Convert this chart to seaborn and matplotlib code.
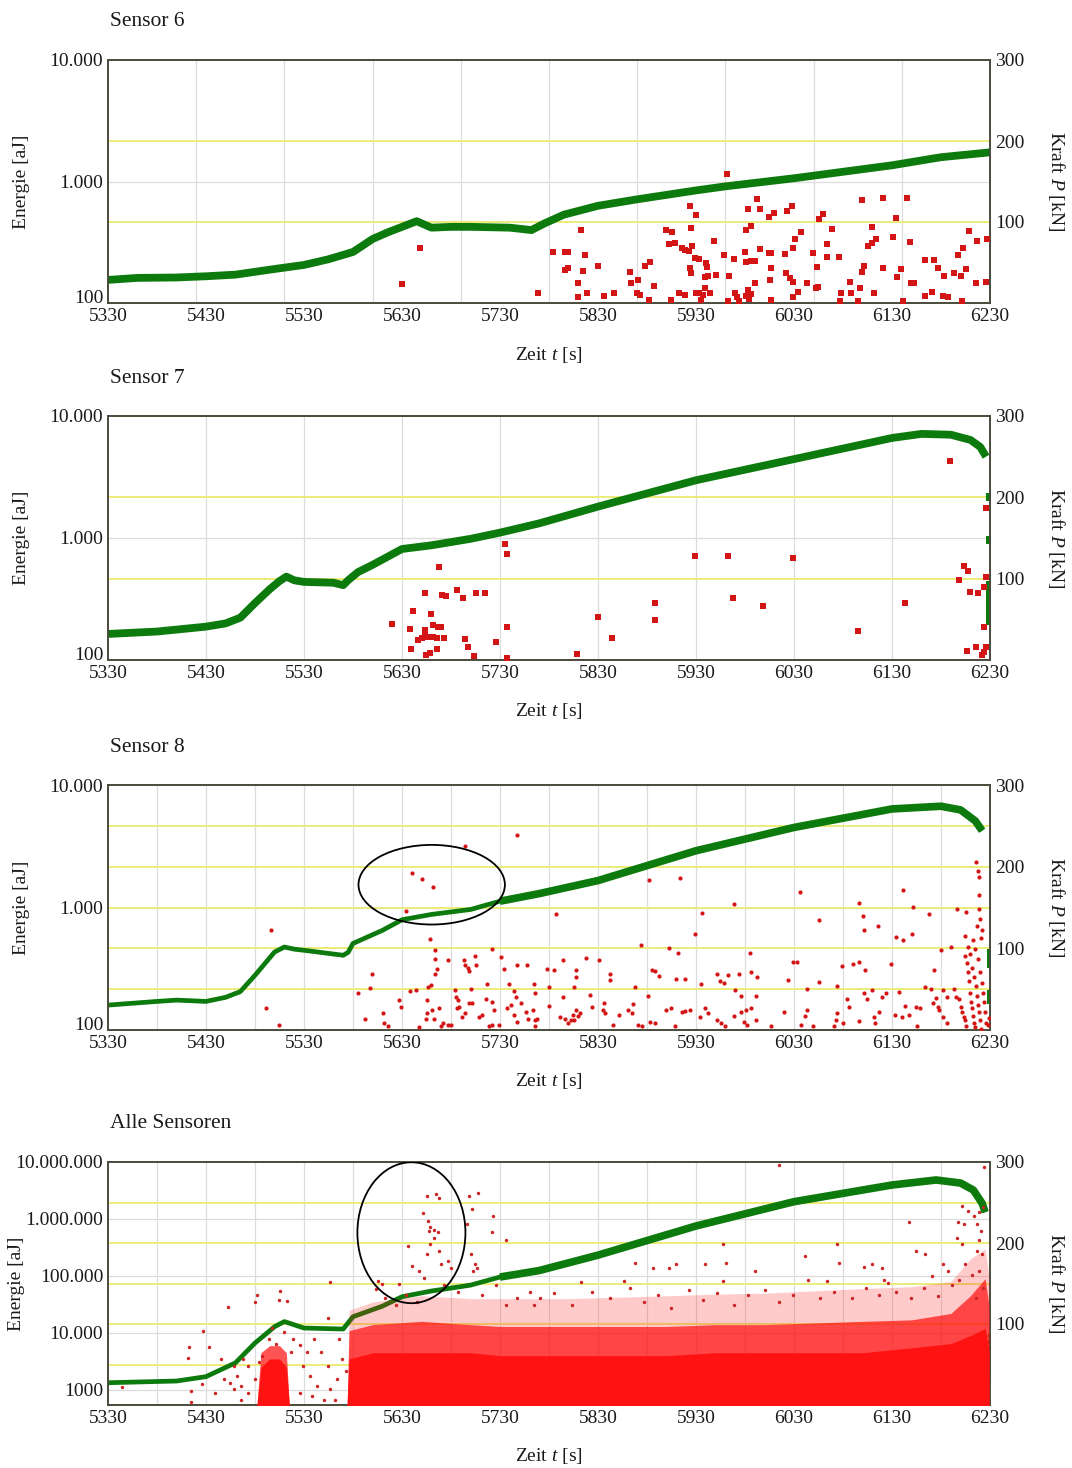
import matplotlib
matplotlib.use("Agg")
import matplotlib.pyplot as plt
import matplotlib.transforms as mtransforms
from matplotlib.lines import Line2D
from matplotlib.patches import Ellipse
from matplotlib.ticker import FixedLocator, FixedFormatter, NullLocator
import seaborn as sns

# ------------------------------------------------------------------
# Zeitachse
# ------------------------------------------------------------------
T0, T1 = 5330, 6230
x_ticks = [5330, 5430, 5530, 5630, 5730, 5830, 5930, 6030, 6130, 6230]

# ------------------------------------------------------------------
# Sensor 6
# ------------------------------------------------------------------
s6_force_t = [5330, 5360, 5400, 5430, 5460, 5480, 5500, 5530, 5555, 5580, 5600, 5615,
              5630, 5645, 5660, 5680, 5700, 5720, 5740, 5755, 5762, 5775, 5795, 5830,
              5870, 5930, 5960, 6030, 6080, 6130, 6180, 6230]
s6_force_p = [28.5, 31, 31.5, 33, 35, 38.5, 42, 47, 54, 63, 79, 87,
              94, 101, 93, 94, 94, 93.5, 93, 91, 90, 98, 109, 120,
              128, 139, 144, 154, 162, 170, 180, 186]
s6_hits = [
    (5630, 143), (5648, 282), (5769, 121),
    (5784, 261), (5796, 261), (5799, 264), (5796, 187), (5799, 195),
    (5813, 399), (5817, 248), (5815, 185), (5810, 145), (5810, 111), (5819, 120),
    (5830, 203), (5836, 114), (5846, 120),
    (5863, 181), (5864, 145), (5871, 155), (5870, 120), (5873, 116),
    (5878, 203), (5883, 219), (5882, 106), (5887, 138),
    (5899, 399), (5906, 382), (5902, 304), (5909, 314), (5904, 106),
    (5913, 122), (5919, 116), (5916, 282), (5919, 273), (5923, 270), (5926, 294),
    (5924, 629), (5930, 530), (5925, 412), (5925, 175), (5924, 195),
    (5929, 233), (5933, 229), (5930, 120), (5933, 122), (5937, 116), (5944, 120),
    (5935, 106), (5939, 132), (5940, 212), (5941, 199), (5939, 165), (5942, 167),
    (5950, 169), (5948, 326), (5962, 1153),
    (5959, 248), (5963, 104), (5969, 229), (5964, 167), (5970, 120), (5972, 111), (5974, 104),
    (5980, 264), (5981, 399), (5986, 433), (5983, 590),
    (5981, 219), (5986, 222), (5990, 222),
    (5983, 128), (5986, 118), (5990, 145), (5981, 114), (5984, 107),
    (5992, 718), (5995, 590), (5995, 277),
    (6004, 256), (6007, 256), (6004, 507), (6010, 547),
    (6007, 193), (6006, 155), (6007, 106),
    (6021, 253), (6022, 175), (6026, 160), (6029, 150),
    (6023, 575), (6028, 629), (6029, 282), (6031, 334), (6037, 387),
    (6029, 111), (6034, 124), (6043, 145), (6049, 256), (6053, 199), (6054, 136), (6052, 132),
    (6056, 488), (6060, 540), (6064, 304), (6064, 241), (6069, 409), (6076, 241),
    (6078, 120), (6077, 103), (6087, 150), (6088, 120), (6095, 103), (6097, 132),
    (6099, 704), (6106, 294), (6110, 314), (6114, 334), (6101, 203), (6099, 181),
    (6110, 420), (6112, 120),
    (6121, 736), (6121, 193), (6131, 352), (6134, 498), (6135, 165), (6139, 189), (6141, 103),
    (6145, 736), (6148, 320), (6149, 145), (6152, 145),
    (6164, 226), (6173, 226), (6177, 193), (6183, 167), (6164, 114), (6171, 124),
    (6182, 114), (6187, 111),
    (6193, 175), (6200, 167), (6206, 189), (6197, 248), (6202, 282), (6209, 391), (6201, 103),
    (6217, 326), (6227, 334), (6216, 147), (6226, 150),
]

# ------------------------------------------------------------------
# Sensor 7
# ------------------------------------------------------------------
s7_force_t = [5330, 5380, 5430, 5450, 5465, 5480, 5495, 5505, 5512, 5520, 5530, 5560,
              5570, 5575, 5585, 5600, 5630, 5660, 5700, 5730, 5770, 5830, 5930, 6030,
              6130, 6160, 6190, 6210, 6220, 6226]
s7_force_p = [32, 35, 41, 45, 52, 70, 87, 97, 102.5, 98, 96, 95,
              92, 98, 108, 117, 136.5, 141, 149, 156.6, 168, 188.6, 221, 247,
              273, 278, 277, 270.6, 262, 250]
s7_tail_t = [6229.5, 6229.5, 6229.5, 6229.5, 6229.5, 6229.5, 6229.5, 6229.5]
s7_tail_p = [200, 148, 92, 84, 76, 68, 58, 48]
s7_hits = [
    (5620, 197), (5641, 253), (5653, 352), (5668, 581), (5671, 341), (5675, 334),
    (5686, 374), (5692, 320), (5706, 352), (5715, 352),
    (5638, 181), (5646, 146), (5650, 152), (5653, 157), (5660, 238), (5662, 194),
    (5667, 187), (5670, 187), (5653, 175), (5656, 155), (5662, 155), (5666, 152),
    (5673, 152), (5639, 123), (5655, 110), (5659, 114), (5666, 123),
    (5694, 150), (5697, 127), (5703, 108), (5726, 141), (5735, 888), (5737, 735),
    (5737, 187), (5737, 103),
    (5809, 113), (5830, 227), (5844, 152), (5888, 295), (5888, 213), (5929, 712),
    (5963, 712), (5968, 324), (5998, 277), (6029, 681), (6095, 174), (6143, 295),
    (6189, 4305), (6198, 452), (6203, 589), (6208, 540), (6210, 363), (6218, 352),
    (6207, 118), (6216, 129),
    (6226, 1750), (6226, 482), (6224, 399), (6224, 188), (6226, 129), (6222, 110), (6224, 117),
]

# ------------------------------------------------------------------
# Sensor 8
# ------------------------------------------------------------------
s8_force_t = [5330, 5380, 5400, 5430, 5450, 5465, 5480, 5500, 5510, 5520, 5530, 5570,
              5575, 5580, 5610, 5630, 5660, 5700, 5730, 5770, 5830, 5930, 6030, 6130,
              6180, 6200, 6215, 6222]
s8_force_p = [30.5, 35, 36.6, 35, 40, 47, 67, 95.5, 101.6, 99, 97.6, 91.5,
              95, 106, 122, 135, 141.5, 147.6, 157.7, 167, 183, 219.5, 248, 270.7,
              274, 269.5, 256, 244]
s8_tail_t = [6229.5, 6229.5, 6229.5, 6229.5, 6229.5, 6229.5, 6229.5]
s8_tail_p = [95, 90, 85, 80, 45, 40, 36]
s8_hits = [
    (5496, 650), (5491, 150), (5505, 110),
    (5640, 1901), (5650, 1710), (5662, 1463), (5634, 945), (5694, 3192), (5747, 3921),
    (5659, 556), (5664, 447), (5664, 383), (5677, 376), (5666, 317), (5664, 289),
    (5599, 284), (5597, 221), (5585, 201), (5592, 122), (5611, 138), (5612, 115), (5616, 107),
    (5627, 175), (5629, 155), (5638, 208), (5644, 214), (5647, 105),
    (5656, 175), (5657, 225), (5660, 232), (5656, 138), (5661, 145), (5668, 152),
    (5654, 122), (5663, 122), (5670, 107), (5672, 115), (5677, 110), (5680, 110),
    (5684, 214), (5685, 187), (5687, 175), (5686, 152), (5688, 155),
    (5693, 371), (5694, 341), (5697, 320), (5698, 304), (5704, 399), (5706, 341),
    (5700, 218), (5698, 165), (5701, 167), (5694, 137), (5691, 127),
    (5709, 127), (5712, 132), (5719, 107), (5722, 110), (5729, 110),
    (5717, 239), (5716, 178), (5722, 170), (5724, 145),
    (5722, 461), (5731, 395), (5734, 312),
    (5739, 239), (5744, 208), (5746, 187), (5737, 150), (5741, 160),
    (5747, 338), (5758, 338), (5744, 132), (5747, 116), (5751, 165), (5757, 141), (5759, 124),
    (5765, 239), (5766, 199), (5766, 121),
    (5764, 145), (5766, 107), (5768, 124),
    (5778, 312), (5780, 225), (5780, 157), (5785, 307), (5787, 888), (5794, 376), (5794, 187),
    (5791, 128), (5796, 124), (5799, 113),
    (5802, 121), (5805, 132), (5806, 121), (5808, 145), (5810, 130), (5812, 137),
    (5808, 310), (5808, 271), (5806, 225),
    (5818, 387), (5822, 193), (5824, 154), (5831, 376), (5836, 167), (5835, 147), (5837, 138),
    (5842, 289), (5842, 255), (5845, 110), (5851, 132),
    (5861, 147), (5866, 163), (5865, 138), (5868, 225), (5871, 110), (5875, 107),
    (5874, 491), (5882, 1679), (5881, 189), (5883, 116), (5888, 115), (5885, 307),
    (5888, 304), (5892, 275),
    (5899, 147), (5905, 150), (5902, 470), (5910, 263), (5919, 263), (5912, 425), (5909, 107),
    (5914, 1740), (5916, 141), (5919, 143), (5924, 145),
    (5929, 603), (5934, 128), (5935, 239), (5936, 898), (5939, 150), (5942, 138),
    (5951, 289), (5954, 252), (5959, 242), (5951, 121), (5956, 113), (5960, 107),
    (5963, 280), (5969, 1069), (5970, 214), (5976, 189),
    (5969, 130), (5976, 141), (5981, 145), (5986, 150), (5974, 289), (5979, 116), (5982, 110),
    (5985, 425), (5986, 298), (5992, 271), (5991, 189), (5991, 121),
    (6007, 107), (6020, 141), (6024, 255), (6029, 360), (6033, 360), (6036, 1349),
    (6037, 110), (6041, 130), (6043, 147), (6043, 218),
    (6056, 784), (6056, 247), (6049, 107),
    (6071, 107), (6073, 121), (6074, 138), (6074, 228), (6079, 331), (6080, 113),
    (6084, 178), (6086, 154), (6090, 348), (6096, 360), (6096, 118), (6096, 1084),
    (6100, 860), (6101, 651), (6102, 310), (6101, 199), (6104, 178),
    (6110, 214), (6112, 128), (6113, 113), (6117, 141), (6116, 700), (6120, 187), (6124, 199),
    (6129, 348), (6133, 132), (6137, 205), (6140, 128), (6134, 574), (6141, 546), (6141, 1394),
    (6143, 157), (6147, 132), (6151, 1006), (6150, 603), (6155, 155), (6159, 150), (6156, 107),
    (6164, 225), (6170, 218), (6175, 181), (6168, 877), (6173, 310),
    (6172, 165), (6177, 154), (6178, 145), (6182, 128), (6186, 113),
    (6180, 452), (6182, 214), (6186, 187), (6190, 475),
    (6193, 218), (6195, 187), (6198, 178), (6200, 155), (6201, 141), (6203, 128),
    (6205, 121), (6206, 107), (6196, 976), (6204, 590), (6206, 915),
    (6205, 400), (6207, 350), (6208, 300), (6209, 250), (6210, 200), (6211, 170),
    (6212, 150), (6213, 130), (6214, 115), (6215, 105), (6208, 480), (6210, 420),
    (6212, 320), (6214, 270), (6216, 230), (6217, 190), (6218, 160), (6219, 140),
    (6220, 120), (6221, 102), (6213, 540), (6215, 460), (6218, 380), (6220, 300),
    (6222, 240), (6223, 200), (6224, 170), (6225, 140), (6226, 115),
    (6216, 2337), (6218, 2000), (6219, 1766), (6219, 1254), (6219, 976), (6220, 800),
    (6222, 650), (6217, 700), (6221, 560), (6228, 110), (6229, 125),
]

# ------------------------------------------------------------------
# Alle Sensoren
# ------------------------------------------------------------------
all_force_t = [5330, 5400, 5430, 5460, 5480, 5500, 5510, 5530, 5570, 5580, 5610, 5630,
               5660, 5700, 5730, 5770, 5830, 5930, 6030, 6130, 6175, 6200, 6213, 6222, 6225]
all_force_p = [27.5, 29.6, 35, 52, 76.5, 96.7, 103, 95, 93.8, 109, 122, 133.7,
               140.7, 148, 158, 166, 185, 221, 251, 271.6, 277.8, 274, 265.4, 249, 238]
all_tail_t = [6229.5, 6229.5, 6229.5, 6229.5, 6229.5, 6229.5, 6229.5]
all_tail_p = [85, 78, 70, 60, 50, 42, 35]

# dichte Trefferbänder (Energie-Obergrenzen je Zeitpunkt, aJ)
cluster_t = [5482, 5486, 5495, 5505, 5512, 5515]
cluster_core = [545, 2500, 3500, 3500, 2500, 545]
cluster_mid = [545, 4500, 6000, 6000, 4500, 545]

band_t = [5574, 5576, 5600, 5650, 5700, 5730, 5800, 5900, 5950, 6000, 6100, 6150,
          6190, 6210, 6225, 6229]
band_core = [545, 3500, 4500, 4500, 4500, 4000, 4000, 4000, 4500, 4500, 4500, 5500,
             6500, 9000, 12000, 5000]
band_mid = [545, 11000, 14000, 16000, 14000, 13000, 13000, 13000, 14000, 14000, 16000, 17000,
            22000, 45000, 90000, 30000]
band_light = [545, 25000, 35000, 45000, 40000, 40000, 40000, 45000, 48000, 50000, 60000, 65000,
              80000, 200000, 300000, 100000]

all_hits = [
    (5656, 2.5e6), (5665, 2.7e6), (5668, 2.3e6), (5698, 2.5e6), (5708, 2.9e6),
    (5651, 1.26e6), (5657, 9.3e5), (5659, 7.1e5), (5658, 6.2e5), (5663, 6.3e5), (5667, 6.0e5),
    (5723, 1.15e6), (5701, 1.5e6), (5736, 4.2e5), (5722, 5.8e5), (5636, 3.4e5),
    (5656, 2.4e5), (5659, 3.6e5), (5663, 4.7e5), (5668, 2.8e5), (5696, 8.1e5), (5700, 2.4e5),
    (5640, 1.5e5), (5647, 1.2e5), (5670, 1.6e5), (5677, 1.8e5), (5680, 1.4e5),
    (5704, 1.6e5), (5702, 1.2e5), (5707, 1.4e5),
    (5606, 8.3e4), (5610, 7.1e4), (5603, 5.8e4), (5627, 7.1e4), (5652, 9.1e4),
    (5557, 7.8e4), (5555, 1.8e4), (5506, 5.4e4), (5504, 3.8e4), (5513, 3.6e4),
    (5482, 4.6e4), (5480, 3.5e4), (5452, 2.8e4),
    (5413, 5600), (5412, 3700), (5433, 5600), (5427, 11000), (5344, 1150),
    (5415, 950), (5415, 620), (5426, 1260), (5439, 870),
    (5448, 1550), (5454, 1350), (5459, 1030), (5462, 1780), (5466, 1180),
    (5468, 3470), (5473, 2670), (5480, 1550), (5484, 3090), (5487, 4000),
    (5445, 3470), (5459, 2670), (5473, 900), (5466, 680),
    (5494, 7900), (5501, 6450), (5497, 12000), (5510, 10400), (5517, 4600),
    (5519, 7900), (5526, 6050), (5529, 2670), (5536, 1770), (5543, 1180), (5547, 4600),
    (5554, 2670), (5557, 1030), (5564, 1550), (5569, 3470), (5573, 2170), (5526, 900),
    (5538, 780), (5550, 680), (5562, 680), (5533, 4600), (5540, 7900), (5566, 7900),
    (5613, 4.1e4), (5624, 3.1e4), (5634, 4.7e4), (5645, 3.5e4), (5673, 7.0e4),
    (5687, 5.3e4), (5712, 4.7e4), (5726, 7.0e4), (5747, 4.1e4), (5761, 5.3e4),
    (5736, 3.1e4), (5765, 3.1e4),
    (6015, 8.9e6), (6224, 8.3e6), (6201, 1.7e6), (6208, 1.4e6), (6214, 1.15e6),
    (6219, 1.3e6), (6223, 1.6e6), (6197, 8.7e5), (6203, 8.1e5), (6217, 8.1e5),
    (6147, 8.7e5), (6221, 6.2e5), (6219, 4.2e5), (6222, 2.4e5), (6196, 4.7e5),
    (6201, 3.6e5), (6074, 3.6e5), (6154, 2.8e5), (6164, 2.4e5), (5958, 3.6e5),
    (6041, 2.2e5), (5868, 1.66e5), (5910, 1.6e5), (5902, 1.4e5), (5961, 1.7e5),
    (5939, 1.6e5), (5886, 1.4e5), (5990, 1.2e5), (6076, 1.66e5), (6101, 1.45e5),
    (6110, 1.6e5), (6120, 1.4e5), (6182, 1.6e5), (6187, 1.2e5),
    (5857, 8.3e4), (5813, 7.8e4), (5958, 8.1e4), (6044, 8.5e4), (6064, 8.1e4),
    (6122, 8.5e4), (6126, 7.5e4), (6198, 8.5e4), (6171, 9.9e4),
    (5771, 4.1e4), (5785, 5.0e4), (5803, 3.1e4), (5824, 5.3e4), (5842, 4.1e4),
    (5863, 6.2e4), (5877, 3.5e4), (5891, 4.7e4), (5905, 2.7e4), (5923, 5.7e4),
    (5937, 3.8e4), (5951, 5.0e4), (5969, 3.1e4), (5983, 4.7e4), (6000, 5.7e4),
    (6015, 3.5e4), (6029, 4.7e4), (6057, 4.1e4), (6071, 5.3e4), (6089, 4.1e4),
    (6103, 6.2e4), (6117, 4.7e4), (6134, 5.3e4), (6149, 4.1e4), (6163, 6.2e4),
    (6177, 4.4e4), (6191, 7.0e4), (6205, 1.6e5), (6212, 1.05e5), (6217, 2.8e5),
    (6219, 1.2e5), (6223, 6.2e4), (6216, 4.1e4),
]

# ------------------------------------------------------------------
# Darstellung
# ------------------------------------------------------------------
sns.set_theme(style="white")
plt.rcParams["font.family"] = ["Liberation Serif", "DejaVu Serif"]
plt.rcParams["mathtext.fontset"] = "custom"
plt.rcParams["mathtext.rm"] = "Liberation Serif"
plt.rcParams["mathtext.it"] = "Liberation Serif:italic"

GREEN = "#0d7a0d"
RED = "#d41515"
RED_ALL = "#ff1212"
RED_SPARSE = "#cc2424"
YELLOW = "#ecec78"
GRID = "#dcdcdc"
FRAME = "#4a4a3c"
TXT = "#1a1a1a"
FS = 14

W, H = 1072, 1468
fig = plt.figure(figsize=(W / 100, H / 100), dpi=100)
fig.patch.set_facecolor("white")


def make_panel(top, bottom, title, title_y, xlabel_y, grid_x, force_levels,
               e_lim, e_ticks, e_labels, e_grid, elabel_x):
    ax = fig.add_axes([108 / W, 1 - bottom / H, 882 / W, (bottom - top) / H])
    ax_e = ax.twinx()
    ax.yaxis.tick_right()
    ax.set_xlim(T0, T1)
    ax.set_ylim(0, 300)
    ax.set_xticks(x_ticks)
    ax.set_xticklabels([str(v) for v in x_ticks])
    ax.set_yticks([100, 200, 300])
    ax.set_yticklabels(["100", "200", "300"])
    ax.tick_params(length=0, labelsize=FS, pad=3.5, colors=TXT)
    ax.set_facecolor("white")
    for sp in ax.spines.values():
        sp.set_color(FRAME)
        sp.set_linewidth(1.4)
        sp.set_zorder(5)

    ax_e.set_yscale("log")
    ax_e.set_ylim(*e_lim)
    ax_e.yaxis.set_major_locator(FixedLocator(e_ticks))
    ax_e.yaxis.set_major_formatter(FixedFormatter(e_labels))
    ax_e.yaxis.set_minor_locator(NullLocator())
    ax_e.yaxis.tick_left()
    ax_e.tick_params(length=0, labelsize=FS, pad=3.5, colors=TXT)
    for sp in ax_e.spines.values():
        sp.set_visible(False)

    # Gitter: senkrechte Zeitlinien, Energie-Linien, gelbe Kraftlinien
    for gx in grid_x:
        ax.axvline(gx, color=GRID, lw=0.9, zorder=0.2)
    blend = mtransforms.blended_transform_factory(ax.transAxes, ax_e.transData)
    for ge in e_grid:
        ax.add_line(Line2D([0, 1], [ge, ge], transform=blend, color=GRID, lw=0.9, zorder=0.2))
    for f in force_levels:
        ax.axhline(f, color=YELLOW, lw=1.4, zorder=0.3)

    fig.text(110 / W, 1 - title_y / H, title, fontsize=15.5, color=TXT, va="center", ha="left")
    fig.text(549 / W, 1 - xlabel_y / H, r"Zeit $t$ [s]", fontsize=FS, color=TXT,
             va="center", ha="center")
    yc = (top + bottom) / 2
    fig.text(elabel_x / W, 1 - yc / H, "Energie [aJ]", fontsize=FS, color=TXT,
             rotation=90, va="center", ha="center")
    fig.text(1057 / W, 1 - yc / H, r"Kraft $P$ [kN]", fontsize=FS, color=TXT,
             rotation=270, va="center", ha="center")
    return ax, ax_e


def force_line(ax, t, p, lw):
    sns.lineplot(x=t, y=p, ax=ax, color=GREEN, linewidth=lw, estimator=None, sort=False,
                 solid_capstyle="butt", solid_joinstyle="round", zorder=3)


def hits(ax_e, pairs, size, color, marker):
    ts = [a for a, _ in pairs]
    es = [b for _, b in pairs]
    sns.scatterplot(x=ts, y=es, ax=ax_e, s=size, color=color, marker=marker,
                    linewidth=0, legend=False, zorder=4)


e_small = (100, 10000)
e_small_ticks = [100, 1000, 10000]
e_small_labels = ["100", "1.000", "10.000"]

# Sensor 6
ax1, ax1e = make_panel(60, 303, "Sensor 6", 22, 355, list(range(5420, 6230, 90)),
                       [0, 100, 200, 300], e_small, e_small_ticks, e_small_labels, [1000], 22)
force_line(ax1, s6_force_t, s6_force_p, 5.6)
hits(ax1e, s6_hits, 24, RED, "s")

# Sensor 7
ax2, ax2e = make_panel(416, 660, "Sensor 7", 378, 711, list(range(5430, 6230, 100)),
                       [0, 100, 200, 300], e_small, e_small_ticks, e_small_labels, [1000], 22)
force_line(ax2, s7_force_t, s7_force_p, 5.6)
sns.scatterplot(x=s7_tail_t, y=s7_tail_p, ax=ax2, s=30, color=GREEN, marker="s",
                linewidth=0, legend=False, zorder=3)
hits(ax2e, s7_hits, 24, RED, "s")

# Sensor 8
ax3, ax3e = make_panel(785, 1030, "Sensor 8", 748, 1081, list(range(5380, 6230, 50)),
                       [0, 50, 100, 150, 200, 250, 300], e_small, e_small_ticks,
                       e_small_labels, [1000], 22)
force_line(ax3, s8_force_t, s8_force_p, 3.4)
force_line(ax3, s8_force_t[18:], s8_force_p[18:], 5.5)
sns.scatterplot(x=s8_tail_t, y=s8_tail_p, ax=ax3, s=14, color=GREEN, marker="s",
                linewidth=0, legend=False, zorder=3)
hits(ax3e, s8_hits, 9, RED, "o")
ax3e.add_patch(Ellipse((0.367, 0.593), 0.166, 0.325, transform=ax3e.transAxes,
                       fill=False, ec="black", lw=1.3, zorder=6))

# Alle Sensoren
ax4, ax4e = make_panel(1162, 1405, "Alle Sensoren", 1123, 1456, list(range(5380, 6230, 50)),
                       [0, 50, 100, 150, 200, 250, 300], (545, 1e7),
                       [1e3, 1e4, 1e5, 1e6, 1e7],
                       ["1000", "10.000", "100.000", "1.000.000", "10.000.000"],
                       [1e3, 1e4, 1e5, 1e6], 17)
force_line(ax4, all_force_t, all_force_p, 3.4)
force_line(ax4, all_force_t[14:], all_force_p[14:], 5.5)
sns.scatterplot(x=all_tail_t, y=all_tail_p, ax=ax4, s=12, color=GREEN, marker="s",
                linewidth=0, legend=False, zorder=3)
for tt, top_vals, alpha in [(band_t, band_light, 0.22), (band_t, band_mid, 0.72),
                            (band_t, band_core, 1.0), (cluster_t, cluster_mid, 0.72),
                            (cluster_t, cluster_core, 1.0)]:
    ax4e.fill_between(tt, [400] * len(tt), top_vals, color=RED_ALL, alpha=alpha, lw=0, zorder=2)
hits(ax4e, all_hits, 6, RED_SPARSE, "o")
ax4e.add_patch(Ellipse((0.344, 0.709), 0.1225, 0.58, transform=ax4e.transAxes,
                       fill=False, ec="black", lw=1.3, zorder=6))

for a in (ax1, ax2, ax3, ax4, ax1e, ax2e, ax3e, ax4e):
    a.set_xlabel("")
    a.set_ylabel("")
for a in (ax1, ax2, ax3, ax4):
    a.set_xlim(T0, T1)
    a.set_ylim(0, 300)

# unterste Energiebeschriftung etwas anheben, damit sie nicht auf der Zeitbeschriftung sitzt
lift = mtransforms.ScaledTranslation(0, 5 / 72, fig.dpi_scale_trans)
for a in (ax1e, ax2e, ax3e):
    lab = a.get_yticklabels()[0]
    lab.set_transform(lab.get_transform() + lift)

fig.savefig("out.png", dpi=100, facecolor="white")
